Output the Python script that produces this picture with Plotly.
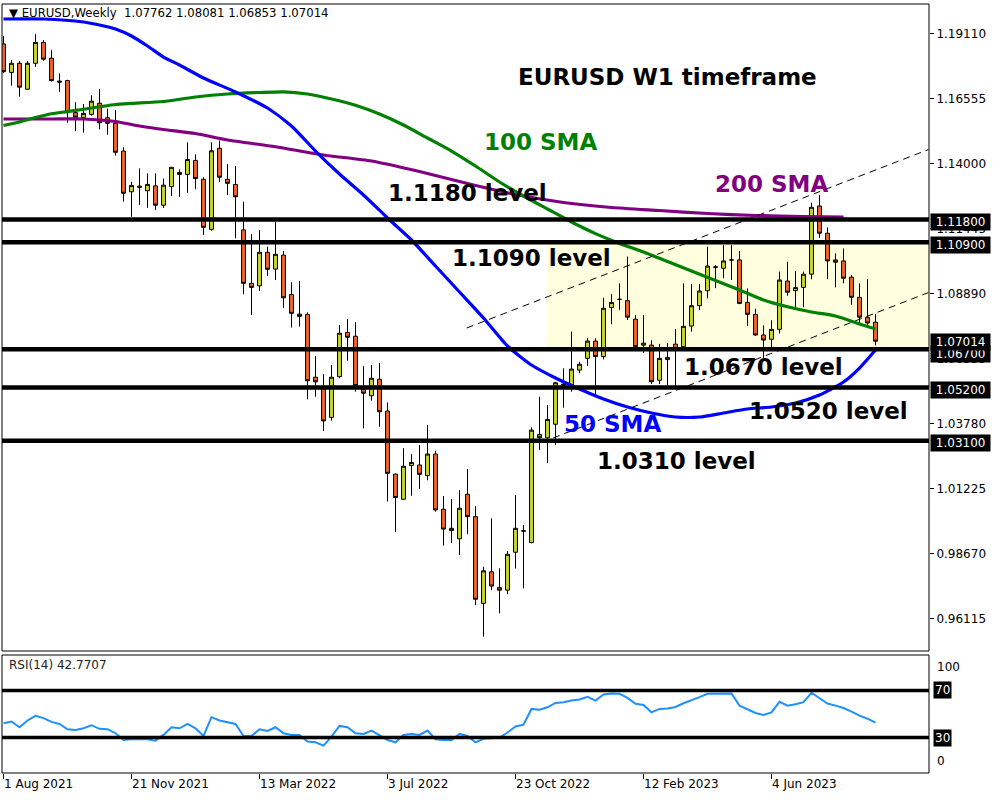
import pandas as pd
import plotly.graph_objects as go

# ---------------- data ----------------
START = pd.Timestamp("2021-08-01")   # weekly bars, one every 7 days

OPEN = [1.1870, 1.1758, 1.1794, 1.1692, 1.1794, 1.1876, 1.1814, 1.1724, 1.1726, 1.1600,
        1.1581, 1.1593, 1.1637, 1.1580, 1.1558, 1.1449, 1.1289, 1.1311, 1.1293, 1.1312,
        1.1236, 1.1309, 1.1365, 1.1357, 1.1412, 1.1338, 1.1141, 1.1460, 1.1338, 1.1318,
        1.1139, 1.0929, 1.0919, 1.1051, 1.0985, 1.1040, 1.0885, 1.0808, 1.0807, 1.0560,
        1.0520, 1.0402, 1.0562, 1.0736, 1.0721, 1.0512, 1.0487, 1.0552, 1.0427, 1.0179,
        1.0080, 1.0213, 1.0215, 1.0173, 1.0258, 1.0041, 0.9966, 0.9925, 1.0100, 1.0012,
        0.9671, 0.9795, 0.9733, 0.9723, 0.9872, 0.9957, 0.9910, 1.0335, 1.0322, 1.0375,
        1.0533, 1.0529, 1.0588, 1.0634, 1.0702, 1.0641, 1.0834, 1.0866, 1.0861, 1.0788,
        1.0686, 1.0686, 1.0548, 1.0629, 1.0690, 1.0680, 1.0761, 1.0841, 1.0900, 1.0994,
        1.0988, 1.1021, 1.1021, 1.0854, 1.0807, 1.0726, 1.0709, 1.0748, 1.0938, 1.0900,
        1.0913, 1.0965, 1.1233, 1.1126, 1.1021, 1.1017, 1.0953, 1.0874, 1.0795, 1.07762]

HIGH = [1.1901, 1.1807, 1.1803, 1.1803, 1.1909, 1.1885, 1.1846, 1.1754, 1.1729, 1.1641,
        1.1634, 1.1668, 1.1693, 1.1616, 1.1610, 1.1464, 1.1328, 1.1381, 1.1361, 1.1361,
        1.1341, 1.1386, 1.1377, 1.1483, 1.1436, 1.1346, 1.1483, 1.1490, 1.1398, 1.1390,
        1.1250, 1.1122, 1.1138, 1.1073, 1.1171, 1.1056, 1.0933, 1.0938, 1.0815, 1.0643,
        1.0572, 1.0608, 1.0765, 1.0788, 1.0776, 1.0604, 1.0608, 1.0616, 1.0461, 1.0181,
        1.0281, 1.0258, 1.0293, 1.0372, 1.0271, 1.0093, 1.0081, 1.0116, 1.0199, 1.0053,
        0.9815, 1.0005, 0.9809, 0.9877, 1.0097, 0.9979, 1.0363, 1.0483, 1.0451, 1.0542,
        1.0595, 1.0739, 1.0621, 1.0713, 1.0713, 1.0872, 1.0887, 1.0929, 1.1034, 1.0804,
        1.0804, 1.0705, 1.0691, 1.0695, 1.0749, 1.0929, 1.0926, 1.0926, 1.1073, 1.1001,
        1.1079, 1.1079, 1.1056, 1.0909, 1.0829, 1.0764, 1.0784, 1.0975, 1.1014, 1.0977,
        1.0975, 1.1246, 1.1276, 1.1149, 1.1047, 1.1066, 1.0962, 1.0929, 1.0945, 1.08081]

LOW = [1.1755, 1.1706, 1.1663, 1.1690, 1.1780, 1.1804, 1.1722, 1.1682, 1.1560, 1.1527,
       1.1521, 1.1588, 1.1534, 1.1513, 1.1431, 1.1250, 1.1191, 1.1237, 1.1226, 1.1217,
       1.1225, 1.1272, 1.1269, 1.1285, 1.1299, 1.1119, 1.1136, 1.1328, 1.1276, 1.1106,
       1.0886, 1.0804, 1.0899, 1.0958, 1.0942, 1.0833, 1.0755, 1.0759, 1.0473, 1.0483,
       1.0349, 1.0389, 1.0556, 1.0625, 1.0503, 1.0359, 1.0468, 1.0365, 1.0071, 0.9952,
       1.0079, 1.0094, 1.0120, 1.0155, 1.0031, 0.9898, 0.9909, 0.9861, 0.9943, 0.9664,
       0.9540, 0.9723, 0.9632, 0.9707, 0.9808, 0.9730, 0.9907, 1.0274, 1.0222, 1.0294,
       1.0440, 1.0503, 1.0575, 1.0605, 1.0486, 1.0630, 1.0768, 1.0824, 1.0785, 1.0669,
       1.0655, 1.0533, 1.0533, 1.0524, 1.0516, 1.0667, 1.0739, 1.0824, 1.0870, 1.0910,
       1.0949, 1.0942, 1.0847, 1.0761, 1.0722, 1.0635, 1.0667, 1.0732, 1.0880, 1.0835,
       1.0835, 1.0945, 1.1108, 1.0945, 1.0913, 1.0929, 1.0845, 1.0772, 1.0766, 1.06853]

CLOSE = [1.1761, 1.1794, 1.1700, 1.1794, 1.1876, 1.1810, 1.1726, 1.1720, 1.1600, 1.1582,
         1.1597, 1.1645, 1.1560, 1.1558, 1.1444, 1.1283, 1.1314, 1.1307, 1.1318, 1.1236,
         1.1315, 1.1385, 1.1357, 1.1416, 1.1341, 1.1149, 1.1450, 1.1346, 1.1322, 1.1269,
         1.0929, 1.0913, 1.1051, 1.0984, 1.1043, 1.0872, 1.0811, 1.0799, 1.0546, 1.0542,
         1.0388, 1.0560, 1.0733, 1.0717, 1.0527, 1.0497, 1.0556, 1.0424, 1.0182, 1.0087,
         1.0210, 1.0225, 1.0178, 1.0258, 1.0038, 0.9963, 0.9957, 1.0045, 1.0012, 0.9687,
         0.9799, 0.9739, 0.9723, 0.9864, 0.9966, 0.9955, 1.0352, 1.0322, 1.0394, 1.0538,
         1.0529, 1.0592, 1.0611, 1.0702, 1.0641, 1.0831, 1.0854, 1.0866, 1.0796, 1.0680,
         1.0694, 1.0542, 1.0634, 1.0638, 1.0668, 1.0760, 1.0841, 1.0899, 1.0997, 1.0992,
         1.1017, 1.1021, 1.0850, 1.0807, 1.0726, 1.0706, 1.0748, 1.0942, 1.0894, 1.0912,
         1.0965, 1.1228, 1.1126, 1.1017, 1.1012, 1.0949, 1.0874, 1.0796, 1.0773, 1.07014]

RSI = [42.2, 43.6, 38.8, 44.5, 48.4, 46.5, 43.3, 41.6, 37.1, 36.5,
       37.9, 40.5, 37.4, 37.1, 33.7, 28.0, 28.6, 28.6, 28.6, 27.4,
       32.3, 38.8, 37.9, 41.6, 37.9, 31.4, 47.3, 44.5, 43.0, 41.6,
       31.4, 31.4, 37.1, 35.7, 38.8, 33.7, 32.3, 32.3, 26.6, 26.0,
       23.2, 30.9, 39.9, 38.8, 33.7, 33.1, 36.0, 32.3, 28.0, 26.0,
       32.3, 33.1, 32.3, 36.0, 28.6, 28.0, 28.0, 33.1, 31.4, 26.0,
       29.0, 29.5, 29.8, 34.3, 39.4, 40.9, 54.3, 53.7, 55.7, 59.4,
       60.0, 61.4, 62.3, 64.6, 61.4, 66.6, 67.4, 67.1, 63.7, 58.6,
       57.7, 51.4, 54.3, 54.6, 56.0, 59.1, 61.4, 64.3, 67.1, 67.4,
       67.4, 67.4, 57.1, 54.3, 50.9, 49.1, 51.4, 60.3, 57.1, 58.3,
       60.0, 68.0, 63.1, 58.9, 57.1, 55.1, 52.0, 48.6, 46.0, 42.77]

# moving averages at these bar numbers
SMA50_BARS = [0, 5, 10, 12, 14, 16, 18, 20, 22, 25, 29, 33, 36, 39, 42, 45, 48, 51, 54, 57,
              60, 63, 66, 69, 72, 75, 78, 81, 84, 87, 90, 93, 96, 99, 102, 105, 107, 109]
SMA50 = [1.19680, 1.19680, 1.19562, 1.19444, 1.19287, 1.19012, 1.18619, 1.18186, 1.17872, 1.17361,
         1.16810, 1.16182, 1.15474, 1.14491, 1.13588, 1.12762, 1.11858, 1.10993, 1.09971, 1.08949,
         1.07927, 1.06826, 1.06079, 1.05568, 1.05136, 1.04743, 1.04428, 1.04193, 1.04035, 1.04035,
         1.04193, 1.04350, 1.04428, 1.04586, 1.04900, 1.05411, 1.05961, 1.06669]

SMA100_BARS = [0, 2, 4, 6, 8, 10, 12, 14, 16, 20, 24, 28, 32, 35, 38, 41, 44, 47, 50, 53,
               56, 59, 62, 65, 68, 71, 74, 77, 80, 83, 86, 89, 92, 95, 98, 101, 104, 107, 109]
SMA100 = [1.15494, 1.15631, 1.15808, 1.15957, 1.16040, 1.16134, 1.16229, 1.16319, 1.16362, 1.16437,
          1.16614, 1.16732, 1.16791, 1.16818, 1.16732, 1.16535, 1.16292, 1.15946, 1.15513, 1.15002,
          1.14491, 1.13902, 1.13273, 1.12722, 1.12211, 1.11700, 1.11244, 1.10859, 1.10521, 1.10148,
          1.09774, 1.09401, 1.09028, 1.08634, 1.08367, 1.08163, 1.08005, 1.07691, 1.07494]

SMA200_BARS = [0, 6, 10, 14, 17, 20, 24, 28, 34, 40, 46, 52, 58, 64, 70, 76, 82, 88, 94, 100, 105]
SMA200 = [1.15749, 1.15749, 1.15749, 1.15651, 1.15474, 1.15336, 1.15179, 1.14924, 1.14660, 1.14334,
          1.14098, 1.13685, 1.13214, 1.12781, 1.12467, 1.12270, 1.12152, 1.12035, 1.11956, 1.11917,
          1.11897]

LEVELS = [1.1180, 1.1090, 1.0670, 1.0520, 1.0310]
LAST_PRICE = 1.07014
RSI_LEVELS = [70, 30]

# channel (dashed) lines: (bar number, price) end points
CHANNEL_UPPER = [(57.9, 1.07534), (115.6, 1.14546)]
CHANNEL_LOWER = [(68.7, 1.03210), (115.6, 1.08925)]
# shaded zone: from this bar to the right edge, between two prices
ZONE_BAR = 67.9
ZONE_LOW, ZONE_HIGH = 1.0670, 1.1090

PRICE_TICKS = [1.19110, 1.16555, 1.14000, 1.11445, 1.08890, 1.06335, 1.03780, 1.01225, 0.98670, 0.96115]
DATE_TICK_BARS = [0, 16, 32, 48, 64, 80, 96]

HEADER = "\u25bc EURUSD,Weekly  1.07762 1.08081 1.06853 1.07014"
RSI_TITLE = "RSI(14) 42.7707"

# ---------------- styling ----------------
BULL = "#C6D82E"
BEAR = "#F0642A"
BLUE = "#0000FF"
GREEN = "#008000"
PURPLE = "#800080"
RSI_COL = "#1E90FF"
ZONE_COL = "#FFFFE0"
FONT = "DejaVu Sans"

W, H = 1000, 800
ML, MR, MT, MB = 2, 71, 4, 27
PLOT_L, PLOT_R, PLOT_T, PLOT_B = ML, W - MR, MT, H - MB
MAIN_BOTTOM_PX, RSI_TOP_PX = 651, 655
X_RANGE_BARS = [-0.1875, 115.6875]
Y_RANGE = [0.948376, 1.202696]


def bar_date(b):
    return START + pd.Timedelta(days=7 * b)


def ds(ts):
    return ts.strftime("%Y-%m-%d %H:%M:%S")


def px_x(px):
    return (px - PLOT_L) / (PLOT_R - PLOT_L)


def px_y(py):
    return (PLOT_B - py) / (PLOT_B - PLOT_T)


dates = [ds(bar_date(i)) for i in range(len(OPEN))]

fig = go.Figure()

fig.add_trace(go.Candlestick(
    x=dates, open=OPEN, high=HIGH, low=LOW, close=CLOSE,
    increasing=dict(line=dict(color="black", width=1), fillcolor=BULL),
    decreasing=dict(line=dict(color="black", width=1), fillcolor=BEAR),
    whiskerwidth=0, showlegend=False, xaxis="x", yaxis="y", hoverinfo="skip"))

for bars, vals, col in [(SMA200_BARS, SMA200, PURPLE), (SMA100_BARS, SMA100, GREEN),
                        (SMA50_BARS, SMA50, BLUE)]:
    fig.add_trace(go.Scatter(
        x=[ds(bar_date(b)) for b in bars], y=vals, mode="lines",
        line=dict(color=col, width=3.2, shape="spline", smoothing=0.6),
        showlegend=False, xaxis="x", yaxis="y", hoverinfo="skip"))

fig.add_trace(go.Scatter(
    x=dates, y=RSI, mode="lines", line=dict(color=RSI_COL, width=2),
    showlegend=False, xaxis="x", yaxis="y2", hoverinfo="skip"))

shapes = []
# shaded zone
shapes.append(dict(type="rect", xref="x", yref="y", layer="below",
                   x0=ds(bar_date(ZONE_BAR)), x1=ds(bar_date(X_RANGE_BARS[1])),
                   y0=ZONE_LOW, y1=ZONE_HIGH, fillcolor=ZONE_COL, line=dict(width=0)))
# channel lines
for pts in (CHANNEL_UPPER, CHANNEL_LOWER):
    (b0, p0), (b1, p1) = pts
    shapes.append(dict(type="line", xref="x", yref="y", layer="above",
                       x0=ds(bar_date(b0)), x1=ds(bar_date(b1)), y0=p0, y1=p1,
                       line=dict(color="black", width=1, dash="7px,5px")))
# horizontal levels
for lv in LEVELS:
    shapes.append(dict(type="line", xref="x domain", yref="y", layer="above",
                       x0=0, x1=1, y0=lv, y1=lv, line=dict(color="black", width=4.5)))
for lv in RSI_LEVELS:
    shapes.append(dict(type="line", xref="x domain", yref="y2", layer="above",
                       x0=0, x1=1, y0=lv, y1=lv, line=dict(color="black", width=3.5)))
# frames
for yr in ("y domain", "y2 domain"):
    shapes.append(dict(type="rect", xref="x domain", yref=yr, layer="above",
                       x0=0, x1=1, y0=0, y1=1, line=dict(color="black", width=1),
                       fillcolor="rgba(0,0,0,0)"))

annotations = []
TEXTS = [("EURUSD W1 timeframe", 667, 77, "black"),
         ("100 SMA", 540, 142, GREEN),
         ("200 SMA", 771, 184, PURPLE),
         ("1.1180 level", 468, 193, "black"),
         ("1.1090 level", 531, 258, "black"),
         ("1.0670 level", 763, 367, "black"),
         ("50 SMA", 612, 424, BLUE),
         ("1.0520 level", 828, 411, "black"),
         ("1.0310 level", 676, 461, "black")]
for txt, x, y, col in TEXTS:
    annotations.append(dict(text=txt, xref="paper", yref="paper", x=px_x(x), y=px_y(y),
                            xanchor="center", yanchor="middle", showarrow=False,
                            font=dict(family=FONT, size=23, weight="bold", color=col)))

annotations.append(dict(text=HEADER, xref="paper", yref="paper", x=px_x(7), y=px_y(13),
                        xanchor="left", yanchor="middle", showarrow=False,
                        font=dict(family=FONT, size=11.7, color="black")))
annotations.append(dict(text=RSI_TITLE, xref="paper", yref="paper", x=px_x(7), y=px_y(665),
                        xanchor="left", yanchor="middle", showarrow=False,
                        font=dict(family=FONT, size=12, color="#222222")))

# price tags on right axis
for val in LEVELS + [LAST_PRICE]:
    shift = -2.5
    if abs(val - 1.0670) < 1e-9:
        shift = -4.5
    if val == LAST_PRICE:
        shift = -0.5
    annotations.append(dict(text="\u00a0" + f"{val:.5f}" + "\u00a0", xref="paper", yref="y",
                            x=1, y=val, xanchor="left", yanchor="middle", xshift=1, yshift=shift,
                            showarrow=False, bgcolor="black", borderpad=1,
                            font=dict(family=FONT, size=12, color="white")))
for lv in RSI_LEVELS:
    annotations.append(dict(text=str(lv), xref="paper", yref="y2", x=1, y=lv,
                            xanchor="left", yanchor="middle", xshift=4, showarrow=False,
                            bgcolor="black", borderpad=1,
                            font=dict(family=FONT, size=12, color="white")))
for lv, anchor, sh in [(100, "top", -3), (0, "bottom", 3)]:
    annotations.append(dict(text=str(lv), xref="paper", yref="y2", x=1, y=lv,
                            xanchor="left", yanchor=anchor, xshift=6, yshift=sh,
                            showarrow=False, font=dict(family=FONT, size=12, color="black")))

tick_dates = [bar_date(b) for b in DATE_TICK_BARS]

fig.update_layout(
    width=W, height=H, margin=dict(l=ML, r=MR, t=MT, b=MB),
    paper_bgcolor="white", plot_bgcolor="white", showlegend=False, boxgap=0.3,
    shapes=shapes, annotations=annotations,
    xaxis=dict(type="date", anchor="y2", domain=[0, 1],
               range=[ds(bar_date(X_RANGE_BARS[0])), ds(bar_date(X_RANGE_BARS[1]))],
               rangeslider=dict(visible=False), showgrid=False, zeroline=False, showline=False,
               tickvals=[ds(d) for d in tick_dates],
               ticktext=[f"{d.day} {d:%b %Y}" for d in tick_dates],
               ticks="outside", ticklen=5, tickcolor="black", ticklabelposition="outside right",
               tickfont=dict(family=FONT, size=12, color="black")),
    yaxis=dict(domain=[px_y(MAIN_BOTTOM_PX), 1], range=Y_RANGE, side="right", anchor="x",
               tickvals=PRICE_TICKS, ticktext=[f"{v:.5f}" for v in PRICE_TICKS],
               ticks="outside", ticklen=4, tickcolor="black", showgrid=False, zeroline=False,
               showline=False, tickfont=dict(family=FONT, size=12, color="black")),
    yaxis2=dict(domain=[0, px_y(RSI_TOP_PX)], range=[0, 100], side="right", anchor="x",
                showticklabels=False, ticks="", showgrid=False, zeroline=False, showline=False),
)

fig.write_html("out.html", config={"displayModeBar": False},
               post_script="document.body.style.margin='0';")
